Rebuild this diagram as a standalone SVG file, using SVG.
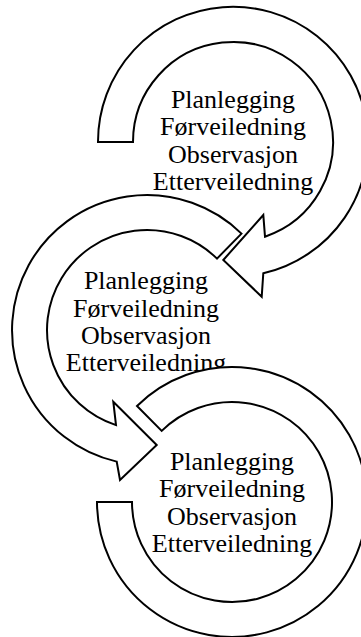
<svg xmlns="http://www.w3.org/2000/svg" width="361" height="637" viewBox="0 0 361 637">
  <style>
    .band { fill: #ffffff; stroke: #000000; stroke-width: 2; stroke-linejoin: miter; }
    .label { font-family: "Liberation Serif", "Times New Roman", serif; font-size: 26px; fill: #000000; text-anchor: middle; }
  </style>
  <rect width="361" height="637" fill="#ffffff"/>

  <!-- Step 1: ring from the left, clockwise, ending in an arrowhead -->
  <g id="step1">
    <path class="band" d="M 98 142 A 135 135 0 1 1 263.3 273.3 L 261.7 296.7 L 223.3 260 L 263.3 215 L 265 236.7 A 100 100 0 1 0 133 142 Z"/>
    <text class="label" x="233" y="108">Planlegging</text>
    <text class="label" x="233" y="135.3">Førveiledning</text>
    <text class="label" x="233" y="162.6">Observasjon</text>
    <text class="label" x="233" y="189.9">Etterveiledning</text>
  </g>

  <!-- Step 2: ring from the upper right, counter-clockwise, ending in an arrowhead -->
  <g id="step2">
    <path class="band" d="M 241.5 233.6 A 135 135 0 1 0 116.7 461.6 L 120 480 L 156.7 445 L 113.3 401.7 L 116 425.1 A 100 100 0 1 1 217 258.6 Z"/>
    <text class="label" x="146" y="289.3">Planlegging</text>
    <text class="label" x="146" y="316.6">Førveiledning</text>
    <text class="label" x="146" y="343.9">Observasjon</text>
    <text class="label" x="146" y="371.2">Etterveiledning</text>
  </g>

  <!-- Step 3: open ring from the upper left, clockwise, flat end on the left -->
  <g id="step3">
    <path class="band" d="M 137 406 A 135 135 0 1 1 97 502 L 132 502 A 100 100 0 1 0 161.7 430.9 Z"/>
    <text class="label" x="232" y="469.5">Planlegging</text>
    <text class="label" x="232" y="497">Førveiledning</text>
    <text class="label" x="232" y="524.5">Observasjon</text>
    <text class="label" x="232" y="552">Etterveiledning</text>
  </g>
</svg>
